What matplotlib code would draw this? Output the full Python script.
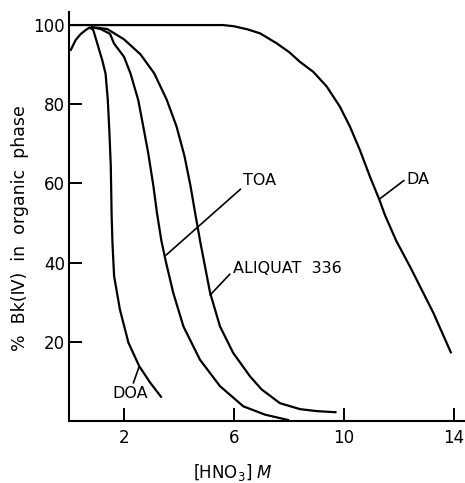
import matplotlib
matplotlib.use("Agg")
import matplotlib.pyplot as plt

# ---- data ----
DA_x = [0.0, 5.6, 6.0, 6.5, 6.95, 7.55, 8.0, 8.4, 8.88, 9.37, 9.85, 10.22, 10.58, 10.95, 11.28, 11.49, 11.9, 12.4, 12.8, 13.25, 13.9]
DA_y = [100, 100, 99.7, 98.9, 97.9, 95.4, 93.2, 90.7, 88.2, 84.5, 79.4, 74.3, 68.4, 61.6, 56.0, 52.0, 45.5, 39.0, 33.5, 27.3, 17.1]

DOA_x = [0.05, 0.24, 0.42, 0.6, 0.75, 0.88, 1.03, 1.21, 1.33, 1.41, 1.47, 1.52, 1.55, 1.58, 1.64, 1.85, 2.16, 2.55, 2.95, 3.37]
DOA_y = [93.5, 96.2, 97.7, 98.7, 99.4, 98.8, 95.3, 91.1, 87.7, 81.2, 72.8, 64.3, 52.0, 45.0, 36.6, 28.2, 19.8, 13.9, 9.7, 5.9]

TOA_x = [0.8, 1.15, 1.49, 1.64, 2.0, 2.24, 2.52, 2.7, 2.88, 3.07, 3.2, 3.36, 3.53, 3.79, 4.16, 4.76, 5.49, 6.34, 7.13, 8.0]
TOA_y = [99.5, 99.0, 97.8, 95.3, 92.0, 87.7, 81.0, 74.4, 67.7, 59.3, 52.5, 45.5, 40.0, 32.4, 23.9, 15.5, 8.8, 3.7, 1.6, 0.2]

ALQ_x = [0.8, 1.39, 2.0, 2.6, 3.1, 3.55, 3.91, 4.2, 4.42, 4.6, 4.78, 5.13, 5.49, 5.97, 6.58, 7.0, 7.67, 8.4, 9.0, 9.73]
ALQ_y = [99.5, 99.0, 96.4, 92.6, 87.8, 81.2, 74.4, 66.9, 59.3, 52.0, 45.0, 32.4, 23.9, 17.2, 11.3, 8.0, 4.5, 3.0, 2.5, 2.2]

x_ticks = [2, 6, 10, 14]
y_ticks = [20, 40, 60, 80, 100]

plt.rcParams['font.family'] = ['DejaVu Sans']

fig = plt.figure(figsize=(4.65, 4.83), dpi=100)
ax = fig.add_axes([69 / 465, 62 / 483, 396 / 465, 409 / 483])

lw = 1.6
for xs, ys in [(DA_x, DA_y), (DOA_x, DOA_y), (TOA_x, TOA_y), (ALQ_x, ALQ_y)]:
    ax.plot(xs, ys, color='black', lw=lw, solid_capstyle='butt', solid_joinstyle='round')

ax.set_xlim(0, 14.4)
ax.set_ylim(0, 103.3)
ax.spines['top'].set_visible(False)
ax.spines['right'].set_visible(False)
ax.spines['left'].set_linewidth(1.5)
ax.spines['bottom'].set_linewidth(1.5)
ax.set_xticks(x_ticks)
ax.set_yticks(y_ticks)
ax.tick_params(direction='in', length=9.5, width=1.4, labelsize=12, colors='black')
ax.tick_params(axis='x', pad=6)
ax.tick_params(axis='y', pad=3)

ax.set_xlabel(r'[HNO$_3$] $M$', fontsize=12)
ax.xaxis.set_label_coords(0.414, -0.1)
ax.set_ylabel('%  Bk(\u2163)  in  organic  phase', fontsize=12.5)
ax.yaxis.set_label_coords(-0.1, 0.472)

ap = dict(arrowstyle='-', lw=1.2, color='black', shrinkA=0, shrinkB=0)
fs = 11.5
ax.annotate('TOA', xy=(3.53, 41.9), xytext=(6.34, 60.7), ha='left', va='center',
            fontsize=fs, arrowprops=dict(ap, relpos=(0, 0.1)))
ax.annotate('ALIQUAT  336', xy=(5.13, 31.8), xytext=(5.95, 38.4), ha='left', va='center',
            fontsize=fs, arrowprops=dict(ap, relpos=(0, 0.35)))
ax.annotate('DA', xy=(11.28, 56.0), xytext=(12.28, 60.9), ha='left', va='center',
            fontsize=fs, arrowprops=dict(ap, relpos=(0, 0.6)))
ax.annotate('DOA', xy=(2.55, 13.7), xytext=(1.59, 7.0), ha='left', va='center',
            fontsize=fs, arrowprops=dict(ap, relpos=(0.55, 1.0)))

fig.savefig('out.png', dpi=100)
